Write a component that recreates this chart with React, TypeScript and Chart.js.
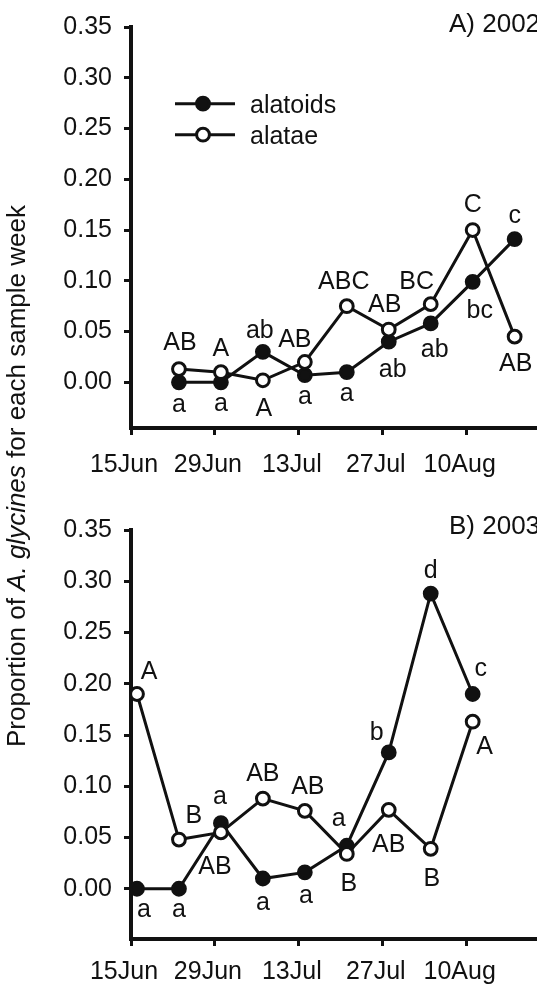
import React, { useEffect, useRef } from 'react';
import { Chart, registerables } from 'chart.js';

Chart.register(...registerables);

// ---------- data ----------
const SERIES_NAMES = ['alatoids', 'alatae'];

const X_TICK_DAYS = [0, 14, 28, 42, 56]; // days after 15 Jun
const X_TICK_LABELS = ['15Jun', '29Jun', '13Jul', '27Jul', '10Aug'];
const Y_TICKS = [0, 0.05, 0.1, 0.15, 0.2, 0.25, 0.3, 0.35];

const DAYS_2002 = [8, 15, 22, 29, 36, 43, 50, 57, 64];
const ALATOIDS_2002 = [0.0, 0.0, 0.03, 0.007, 0.01, 0.04, 0.058, 0.099, 0.141];
const ALATAE_2002 = [0.013, 0.01, 0.002, 0.02, 0.075, 0.052, 0.077, 0.15, 0.045];
const ALATOIDS_2002_LETTERS = ['a', 'a', 'ab', 'a', 'a', 'ab', 'ab', 'bc', 'c'];
const ALATAE_2002_LETTERS = ['AB', 'A', 'A', 'AB', 'ABC', 'AB', 'BC', 'C', 'AB'];

const DAYS_2003 = [1, 8, 15, 22, 29, 36, 43, 50, 57];
const ALATOIDS_2003 = [0.0, 0.0, 0.064, 0.01, 0.016, 0.042, 0.133, 0.288, 0.19];
const ALATAE_2003 = [0.19, 0.048, 0.055, 0.088, 0.076, 0.034, 0.077, 0.039, 0.163];
const ALATOIDS_2003_LETTERS = ['a', 'a', 'a', 'a', 'a', 'a', 'b', 'd', 'c'];
const ALATAE_2003_LETTERS = ['A', 'B', 'AB', 'AB', 'AB', 'B', 'AB', 'B', 'A'];

// ---------- layout (letter placement offsets in px, relative to the point) ----------
const OFF_ALATOIDS_2002 = [[0, 23], [0, 22], [-3, -23], [0, 22], [0, 22], [4, 26], [4, 25], [7, 27], [0, -23]];
const OFF_ALATAE_2002 = [[1, -28], [0, -25], [1, 27], [-10, -24], [-3, -26], [-4, -26], [-14, -24], [0, -27], [1, 25]];
const OFF_ALATOIDS_2003 = [[7, 22], [0, 22], [-1, -26], [0, 25], [1, 24], [-8, -26], [-12, -21], [0, -25], [8, -25]];
const OFF_ALATAE_2003 = [[12, -24], [15, -26], [-6, 33], [0, -27], [3, -26], [2, 28], [0, 33], [1, 28], [12, 23]];

const FONT = '"Liberation Sans", Arial, Helvetica, sans-serif';
const INK = '#111';
const CANVAS_W = 560;

type PanelProps = {
  top: number;
  height: number;
  yMin: number;
  padTop: number;
  xAxisHeight: number;
  xLabelPad: number;
  title: string;
  titleBaseline: number;
  days: number[];
  alatoids: number[];
  alatae: number[];
  alatoidLetters: string[];
  alataeLetters: string[];
  alatoidOffsets: number[][];
  alataeOffsets: number[][];
  showLegend: boolean;
};

function Panel(p: PanelProps) {
  const ref = useRef<HTMLCanvasElement>(null);

  useEffect(() => {
    const canvas = ref.current;
    if (!canvas) return;

    const annotPlugin = {
      id: 'annot',
      afterDatasetsDraw(chart: any) {
        const ctx = chart.ctx as CanvasRenderingContext2D;
        const xs = chart.scales.x;
        const ys = chart.scales.y;
        const ca = chart.chartArea;
        ctx.save();
        // significance letters
        const fs = 25;
        ctx.font = `${fs}px ${FONT}`;
        ctx.fillStyle = INK;
        ctx.textAlign = 'center';
        ctx.textBaseline = 'alphabetic';
        const groups = [
          { vals: p.alatoids, letters: p.alatoidLetters, offs: p.alatoidOffsets },
          { vals: p.alatae, letters: p.alataeLetters, offs: p.alataeOffsets },
        ];
        groups.forEach((g) => {
          g.vals.forEach((v, i) => {
            const t = g.letters[i];
            const px = xs.getPixelForValue(p.days[i]) + g.offs[i][0];
            const cy = ys.getPixelForValue(v) + g.offs[i][1];
            const tall = /[A-Zbdfhklt]/.test(t);
            ctx.fillText(t, px, cy + (tall ? 0.358 : 0.26) * fs);
          });
        });
        // panel title
        ctx.font = `26px ${FONT}`;
        ctx.textAlign = 'left';
        ctx.fillText(p.title, 449, p.titleBaseline);
        // legend
        if (p.showLegend) {
          const styles = [INK, '#ffffff'];
          SERIES_NAMES.forEach((name, i) => {
            const y = ca.top + 76.7 + i * 31;
            ctx.strokeStyle = INK;
            ctx.lineWidth = 3;
            ctx.beginPath();
            ctx.moveTo(ca.left + 44, y);
            ctx.lineTo(ca.left + 104, y);
            ctx.stroke();
            ctx.beginPath();
            ctx.arc(ca.left + 72, y, 6.4, 0, Math.PI * 2);
            ctx.fillStyle = styles[i];
            ctx.fill();
            ctx.stroke();
            ctx.fillStyle = INK;
            ctx.font = `25px ${FONT}`;
            ctx.textAlign = 'left';
            ctx.fillText(name, ca.left + 119, y + 9);
          });
        }
        ctx.restore();
      },
    };

    const tickFont = { family: FONT, size: 25 };

    const chart = new Chart(canvas, {
      type: 'line',
      data: {
        datasets: [
          {
            label: SERIES_NAMES[0],
            data: p.days.map((d, i) => ({ x: d, y: p.alatoids[i] })),
            borderColor: INK,
            borderWidth: 3,
            pointRadius: 6.4,
            pointBorderWidth: 3,
            pointBackgroundColor: INK,
            pointBorderColor: INK,
            tension: 0,
            order: 1,
          },
          {
            label: SERIES_NAMES[1],
            data: p.days.map((d, i) => ({ x: d, y: p.alatae[i] })),
            borderColor: INK,
            borderWidth: 3,
            pointRadius: 6.4,
            pointBorderWidth: 3,
            pointBackgroundColor: '#ffffff',
            pointBorderColor: INK,
            tension: 0,
            order: 0,
          },
        ],
      },
      options: {
        responsive: false,
        maintainAspectRatio: false,
        animation: false,
        events: [],
        layout: { padding: { left: 0, right: 8, top: p.padTop, bottom: 0 } },
        plugins: { legend: { display: false }, tooltip: { enabled: false }, title: { display: false } },
        scales: {
          x: {
            type: 'linear',
            min: 0,
            max: 70,
            afterBuildTicks: (s: any) => {
              s.ticks = X_TICK_DAYS.map((v) => ({ value: v }));
            },
            afterFit: (s: any) => {
              s.height = p.xAxisHeight;
            },
            ticks: {
              autoSkip: false,
              maxRotation: 0,
              minRotation: 0,
              padding: p.xLabelPad,
              labelOffset: -7,
              color: INK,
              font: tickFont,
              callback: (v: any) => {
                const i = X_TICK_DAYS.indexOf(Number(v));
                return i >= 0 ? X_TICK_LABELS[i] : '';
              },
            },
            grid: { display: true, drawOnChartArea: false, drawTicks: true, tickLength: 7, tickWidth: 3, tickColor: INK },
            border: { display: true, width: 4, color: INK },
          },
          y: {
            type: 'linear',
            min: p.yMin,
            max: 0.35,
            afterBuildTicks: (s: any) => {
              s.ticks = Y_TICKS.map((v) => ({ value: v }));
            },
            afterFit: (s: any) => {
              s.width = 131;
            },
            ticks: {
              padding: 12,
              color: INK,
              font: tickFont,
              callback: (v: any) => Number(v).toFixed(2),
            },
            grid: { display: true, drawOnChartArea: false, drawTicks: true, tickLength: 7, tickWidth: 3, tickColor: INK },
            border: { display: true, width: 4, color: INK },
          },
        },
      },
      plugins: [annotPlugin],
    } as any);

    return () => chart.destroy();
  }, []);

  return (
    <canvas
      ref={ref}
      width={CANVAS_W}
      height={p.height}
      style={{ position: 'absolute', left: 0, top: p.top, width: CANVAS_W, height: p.height, display: 'block' }}
    />
  );
}

export default function App() {
  return (
    <div
      style={{
        position: 'absolute',
        left: 0,
        top: 0,
        width: 537,
        height: 985,
        overflow: 'hidden',
        background: '#ffffff',
        fontFamily: FONT,
      }}
    >
      <Panel
        top={0}
        height={480}
        yMin={-0.045}
        padTop={24}
        xAxisHeight={52}
        xLabelPad={15}
        title="A) 2002"
        titleBaseline={32}
        days={DAYS_2002}
        alatoids={ALATOIDS_2002}
        alatae={ALATAE_2002}
        alatoidLetters={ALATOIDS_2002_LETTERS}
        alataeLetters={ALATAE_2002_LETTERS}
        alatoidOffsets={OFF_ALATOIDS_2002}
        alataeOffsets={OFF_ALATAE_2002}
        showLegend={true}
      />
      <Panel
        top={480}
        height={505}
        yMin={-0.049}
        padTop={50}
        xAxisHeight={46}
        xLabelPad={11}
        title="B) 2003"
        titleBaseline={54}
        days={DAYS_2003}
        alatoids={ALATOIDS_2003}
        alatae={ALATAE_2003}
        alatoidLetters={ALATOIDS_2003_LETTERS}
        alataeLetters={ALATAE_2003_LETTERS}
        alatoidOffsets={OFF_ALATOIDS_2003}
        alataeOffsets={OFF_ALATAE_2003}
        showLegend={false}
      />
      <div
        style={{
          position: 'absolute',
          left: 16.4 - 290,
          top: 476 - 14,
          width: 580,
          height: 28,
          lineHeight: '28px',
          fontSize: 26,
          textAlign: 'center',
          whiteSpace: 'nowrap',
          color: INK,
          transform: 'rotate(-90deg)',
          transformOrigin: '50% 50%',
        }}
      >
        Proportion of <i>A. glycines</i> for each sample week
      </div>
    </div>
  );
}
